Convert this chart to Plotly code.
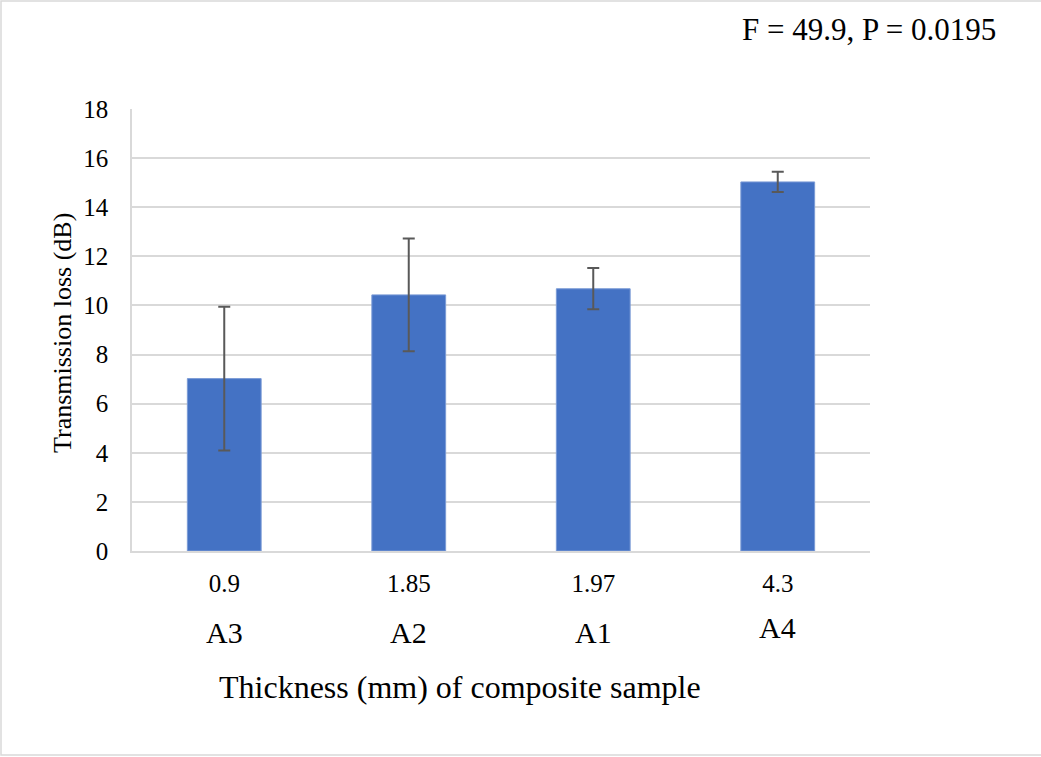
import plotly.graph_objects as go

thickness = ["0.9", "1.85", "1.97", "4.3"]
samples = ["A3", "A2", "A1", "A4"]
loss = [7.02, 10.43, 10.68, 15.03]
err = [2.93, 2.3, 0.84, 0.41]
yticks = [0, 2, 4, 6, 8, 10, 12, 14, 16, 18]

W, H = 1041, 757
L, R, T, B = 132, 870, 109, 551
pw, ph = R - L, B - T

def px(x):
    return (x - L) / pw

def py(y):
    return (B - y) / ph

FONT = "Liberation Serif"
idx = list(range(len(thickness)))

fig = go.Figure()
fig.add_trace(go.Bar(
    x=idx, y=loss,
    marker=dict(color="#4472c4", line=dict(color="#7b9bd6", width=1)),
    error_y=dict(type="data", array=err, visible=True, color="#595959",
                 thickness=2, width=6),
    width=0.4,
))

annotations = []
for i, s in enumerate(samples):
    annotations.append(dict(x=idx[i], y=py(632 if s != "A4" else 627),
                            xref="x", yref="paper", text=s, showarrow=False,
                            font=dict(family=FONT, size=30, color="#000000"),
                            xanchor="center", yanchor="middle"))
annotations.append(dict(x=px(460), y=py(687), xref="paper", yref="paper",
                        text="Thickness (mm) of composite sample", showarrow=False,
                        font=dict(family=FONT, size=32, color="#000000"),
                        xanchor="center", yanchor="middle"))
annotations.append(dict(x=px(62), y=py(333), xref="paper", yref="paper",
                        text="Transmission loss (dB)", showarrow=False, textangle=-90,
                        font=dict(family=FONT, size=26, color="#000000"),
                        xanchor="center", yanchor="middle"))
annotations.append(dict(x=px(998), y=py(30), xref="paper", yref="paper",
                        text="F = 49.9, P = 0.0195", showarrow=False,
                        font=dict(family=FONT, size=31, color="#000000"),
                        xanchor="right", yanchor="middle"))

shapes = [dict(type="rect", xref="paper", yref="paper",
               x0=px(1), x1=px(1045), y0=py(755), y1=py(1),
               line=dict(color="#d9d9d9", width=1.5), fillcolor="rgba(0,0,0,0)",
               layer="below")]

fig.update_layout(
    width=W, height=H,
    margin=dict(l=L, r=W - R, t=T, b=H - B, autoexpand=False),
    paper_bgcolor="white", plot_bgcolor="white",
    showlegend=False,
    font=dict(family=FONT, color="#000000"),
    annotations=annotations,
    shapes=shapes,
    xaxis=dict(range=[-0.5, 3.5], tickvals=idx, ticktext=thickness,
               showgrid=False, showline=True,
               linecolor="#d9d9d9", linewidth=1.5,
               ticks="outside", ticklen=9, tickcolor="rgba(0,0,0,0)",
               tickfont=dict(family=FONT, size=25, color="#000000"),
               mirror=False, zeroline=False, fixedrange=True),
    yaxis=dict(range=[0, 18], tickvals=yticks, showgrid=True,
               gridcolor="#d9d9d9", gridwidth=1.5,
               showline=True, linecolor="#d9d9d9", linewidth=1.5,
               zeroline=False,
               ticks="outside", ticklen=17, tickcolor="rgba(0,0,0,0)",
               tickfont=dict(family=FONT, size=25, color="#000000")),
)

fig.write_html("out.html")
